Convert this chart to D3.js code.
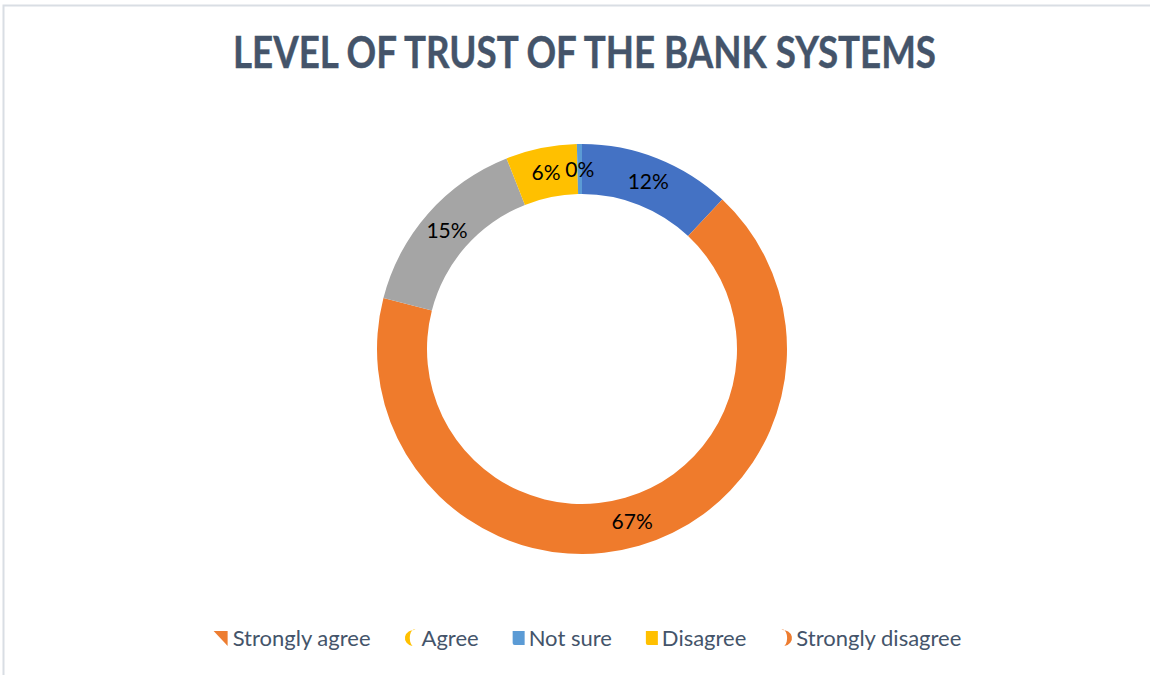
<!DOCTYPE html>
<html>
<head>
<meta charset="utf-8">
<script src="https://cdn.jsdelivr.net/npm/d3@7"></script>
<style>
  html, body { margin: 0; padding: 0; background: #ffffff; }
  svg { display: block; }
</style>
</head>
<body>
<svg id="chart" width="1150" height="675"></svg>
<script>
// Survey responses: level of trust in bank systems
const sliceNames = ["Strongly agree", "Agree", "Not sure", "Disagree", "Strongly disagree"];
const sliceValues = [12, 67, 15, 5.6, 0.4];
const sliceColors = ["#4472C4", "#EF7B2C", "#A5A5A5", "#FFC000", "#5B9BD5"];

const legendNames = ["Strongly agree", "Agree", "Not sure", "Disagree", "Strongly disagree"];
const legendColors = ["#ED7D31", "#FFC000", "#5B9BD5", "#FFC000", "#ED7D31"];
const legendGlyphs = ["wedge", "arcLeft", "square", "square", "arcRight"];

const titleText = "LEVEL OF TRUST OF THE BANK SYSTEMS";

const W = 1150, H = 675;
const cx = 582, cy = 349;
const outerR = 205, innerR = 155;

const svg = d3.select("#chart");

// frame
svg.append("path")
  .attr("d", `M3.5,${H} V5.5 H${W}`)
  .attr("fill", "none")
  .attr("stroke", "#d9dee4")
  .attr("stroke-width", 2);

// title
svg.append("text")
  .attr("x", 584.5)
  .attr("y", 68)
  .attr("text-anchor", "middle")
  .attr("font-family", "Lato, 'Open Sans', sans-serif")
  .attr("font-weight", 700)
  .attr("font-size", 43)
  .attr("fill", "#44546A")
  .attr("stroke", "#44546A")
  .attr("stroke-width", 0.4)
  .attr("textLength", 703)
  .attr("lengthAdjust", "spacingAndGlyphs")
  .text(titleText);

// donut
const data = sliceNames.map((n, i) => ({ name: n, value: sliceValues[i], color: sliceColors[i] }));
const total = d3.sum(sliceValues);
const pie = d3.pie().value(d => d.value).sort(null);
const arc = d3.arc().innerRadius(innerR).outerRadius(outerR);
const arcs = pie(data);
const fmt = d3.format(".0%");

const g = svg.append("g").attr("transform", `translate(${cx},${cy})`);
g.selectAll("path.slice")
  .data(arcs)
  .join("path")
  .attr("class", "slice")
  .attr("d", arc)
  .attr("fill", d => d.data.color);

g.selectAll("text.lbl")
  .data(arcs)
  .join("text")
  .attr("class", "lbl")
  .attr("transform", d => `translate(${arc.centroid(d)})`)
  .attr("text-anchor", "middle")
  .attr("dy", "0.36em")
  .attr("font-family", "Lato, 'Open Sans', sans-serif")
  .attr("font-size", 21)
  .attr("fill", "#000000")
  .text(d => fmt(d.data.value / total));

// legend
const legend = svg.append("g");
const items = legend.selectAll("g.item")
  .data(legendNames.map((n, i) => ({ name: n, color: legendColors[i], glyph: legendGlyphs[i] })))
  .join("g")
  .attr("class", "item");

function glyphPath(kind) {
  switch (kind) {
    case "wedge": return "M0,-7 H14 V8 Z";
    case "arcLeft": return "M11,-8 A9,8 0 0 0 8,8 A4,8 0 0 1 11,-8 Z";
    case "arcRight": return "M1,-8 A9,8 0 0 1 4,8 A4,8 0 0 0 1,-8 Z";
    default: return "M0,-7 H12 V7 H2 Q0,7 0,5 Z";
  }
}
const glyphW = { wedge: 15, arcLeft: 13, arcRight: 12, square: 12 };

items.append("path")
  .attr("d", d => glyphPath(d.glyph))
  .attr("fill", d => d.color);

const labels = items.append("text")
  .attr("font-family", "Lato, 'Open Sans', sans-serif")
  .attr("font-size", 22)
  .attr("fill", "#44546A")
  .attr("dy", "0.35em")
  .text(d => d.name);

// lay out legend entries centred under the donut
const gapIcon = 4, gapItem = 34;
let x = 0;
const offsets = [];
labels.each(function (d) {
  const wIcon = glyphW[d.glyph];
  const wText = this.getComputedTextLength();
  offsets.push({ x, wIcon });
  x += wIcon + gapIcon + wText + gapItem;
});
const totalW = x - gapItem;
const startX = 587.5 - totalW / 2;
items.attr("transform", (d, i) => `translate(${startX + offsets[i].x},638)`);
labels.attr("x", (d, i) => offsets[i].wIcon + gapIcon);
</script>
</body>
</html>
